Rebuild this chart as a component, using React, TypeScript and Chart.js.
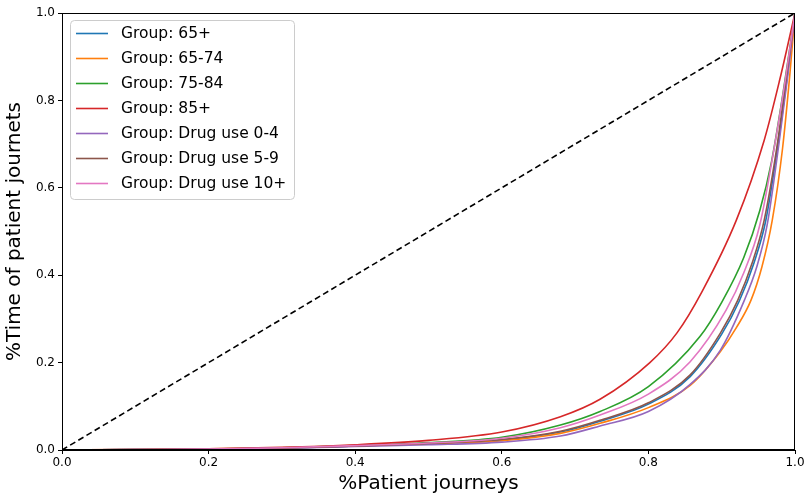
import React, { useEffect, useRef } from 'react';
import { Chart, registerables } from 'chart.js';

Chart.register(...registerables);

// ---- Data (Lorenz curves) ----
const seriesLabels = [
  'Group: 65+',
  'Group: 65-74',
  'Group: 75-84',
  'Group: 85+',
  'Group: Drug use 0-4',
  'Group: Drug use 5-9',
  'Group: Drug use 10+',
];
const seriesColors = ['#1f77b4', '#ff7f0e', '#2ca02c', '#d62728', '#9467bd', '#8c564b', '#e377c2'];

const p65 = [0, 0.1, 0.2, 0.3, 0.4, 0.5, 0.6, 0.68, 0.734, 0.8, 0.857, 0.9, 0.924, 0.944, 0.96, 0.976, 0.989, 1];
const l65 = [0, 0.001, 0.002, 0.004, 0.009, 0.015, 0.023, 0.041, 0.066, 0.105, 0.168, 0.265, 0.341, 0.428, 0.524, 0.69, 0.85, 1];

const p6574 = [0, 0.1, 0.2, 0.3, 0.4, 0.5, 0.6, 0.68, 0.734, 0.8, 0.857, 0.898, 0.92, 0.94, 0.955, 0.969, 0.983, 0.993, 1];
const l6574 = [0, 0.001, 0.003, 0.005, 0.010, 0.014, 0.021, 0.038, 0.061, 0.097, 0.148, 0.225, 0.28, 0.343, 0.42, 0.526, 0.69, 0.86, 1];

const p7584 = [0, 0.1, 0.2, 0.3, 0.4, 0.5, 0.6, 0.68, 0.734, 0.8, 0.87, 0.9, 0.93, 0.952, 0.968, 0.984, 1];
const l7584 = [0, 0.001, 0.002, 0.005, 0.010, 0.017, 0.029, 0.057, 0.088, 0.145, 0.259, 0.338, 0.44, 0.548, 0.66, 0.82, 1];

const p85 = [0, 0.1, 0.2, 0.3, 0.4, 0.5, 0.6, 0.68, 0.734, 0.802, 0.839, 0.873, 0.92, 0.958, 0.979, 1];
const l85 = [0, 0.001, 0.003, 0.006, 0.012, 0.022, 0.041, 0.076, 0.116, 0.2, 0.268, 0.362, 0.526, 0.709, 0.846, 1];

const pDrug04 = [0, 0.1, 0.2, 0.3, 0.4, 0.5, 0.6, 0.68, 0.734, 0.8, 0.857, 0.898, 0.931, 0.948, 0.962, 0.978, 0.99, 1];
const lDrug04 = [0, 0.001, 0.002, 0.004, 0.008, 0.012, 0.018, 0.032, 0.055, 0.088, 0.15, 0.228, 0.343, 0.42, 0.515, 0.7, 0.855, 1];

const pDrug59 = [0, 0.1, 0.2, 0.3, 0.4, 0.5, 0.6, 0.68, 0.734, 0.8, 0.857, 0.898, 0.922, 0.942, 0.958, 0.975, 0.988, 1];
const lDrug59 = [0, 0.001, 0.002, 0.004, 0.009, 0.015, 0.024, 0.043, 0.068, 0.108, 0.172, 0.267, 0.343, 0.43, 0.526, 0.69, 0.85, 1];

const pDrug10 = [0, 0.1, 0.2, 0.3, 0.4, 0.5, 0.6, 0.68, 0.734, 0.8, 0.857, 0.906, 0.93, 0.952, 0.972, 0.987, 1];
const lDrug10 = [0, 0.001, 0.002, 0.005, 0.010, 0.016, 0.027, 0.051, 0.08, 0.128, 0.202, 0.32, 0.405, 0.515, 0.695, 0.85, 1];

const diagX = [0, 1];
const diagY = [0, 1];

const seriesX = [p65, p6574, p7584, p85, pDrug04, pDrug59, pDrug10];
const seriesY = [l65, l6574, l7584, l85, lDrug04, lDrug59, lDrug10];

const xTitle = '%Patient journeys';
const yTitle = '%Time of patient journets';

const FONT = '"DejaVu Sans", "Liberation Sans", sans-serif';

const framePlugin = {
  id: 'frame',
  afterDraw(chart: any) {
    const { ctx, chartArea } = chart;
    ctx.save();
    ctx.strokeStyle = '#000';
    ctx.lineWidth = 1;
    ctx.strokeRect(chartArea.left + 0.5, chartArea.top + 0.5, chartArea.right - chartArea.left - 1, chartArea.bottom - chartArea.top - 1);
    ctx.restore();
  },
};

const legendPlugin = {
  id: 'mplLegend',
  afterDraw(chart: any) {
    const { ctx } = chart;
    const x0 = 70.5, y0 = 20.5, w = 224, h = 179;
    ctx.save();
    ctx.globalAlpha = 0.8;
    ctx.fillStyle = '#ffffff';
    ctx.beginPath();
    (ctx as any).roundRect(x0, y0, w, h, 4);
    ctx.fill();
    ctx.globalAlpha = 1;
    ctx.strokeStyle = '#cccccc';
    ctx.lineWidth = 1;
    ctx.stroke();
    ctx.font = `15.5px ${FONT}`;
    ctx.textBaseline = 'middle';
    ctx.textAlign = 'left';
    seriesLabels.forEach((lab, i) => {
      const cy = 33.5 + i * 25;
      ctx.strokeStyle = seriesColors[i];
      ctx.lineWidth = 1.6;
      ctx.beginPath();
      ctx.moveTo(76, cy);
      ctx.lineTo(108, cy);
      ctx.stroke();
      ctx.fillStyle = '#000';
      ctx.fillText(lab, 121, cy + 0.5);
    });
    ctx.restore();
  },
};

export default function App() {
  const ref = useRef<HTMLCanvasElement>(null);

  useEffect(() => {
    if (!ref.current) return;
    const datasets: any[] = seriesLabels.map((label, i) => ({
      label,
      data: seriesX[i].map((x, j) => ({ x, y: seriesY[i][j] })),
      borderColor: seriesColors[i],
      backgroundColor: seriesColors[i],
      borderWidth: 1.6,
      pointRadius: 0,
      cubicInterpolationMode: 'monotone',
      fill: false,
      order: 10 - i,
    }));
    datasets.push({
      label: 'diagonal',
      data: diagX.map((x, j) => ({ x, y: diagY[j] })),
      borderColor: '#000',
      borderWidth: 1.6,
      borderDash: [6, 3.5],
      pointRadius: 0,
      fill: false,
      order: 0,
    });

    const tickFont = { family: FONT, size: 12 };
    const titleFont = { family: FONT, size: 20 };

    const chart = new Chart(ref.current, {
      type: 'line',
      data: { datasets },
      options: {
        responsive: false,
        animation: false,
        events: [],
        layout: { padding: { left: 0, right: 10, top: 13, bottom: 0 } },
        plugins: { legend: { display: false }, tooltip: { enabled: false } },
        scales: {
          x: {
            type: 'linear',
            min: 0,
            max: 1,
            ticks: {
              stepSize: 0.2,
              maxRotation: 0,
              padding: 2,
              color: '#000',
              font: tickFont,
              callback: (v: any) => Number(v).toFixed(1),
            },
            grid: { drawOnChartArea: false, drawTicks: true, tickLength: 4, color: '#000' },
            border: { display: true, color: '#000', width: 1 },
            title: { display: true, text: xTitle, color: '#000', font: titleFont, padding: { top: 0, bottom: 2 } },
            afterFit: (s: any) => {
              s.height = 48;
              s.paddingLeft = 0;
              s.paddingRight = 0;
            },
          },
          y: {
            type: 'linear',
            min: 0,
            max: 1,
            ticks: {
              stepSize: 0.2,
              padding: 3,
              color: '#000',
              font: tickFont,
              callback: (v: any) => Number(v).toFixed(1),
            },
            grid: { drawOnChartArea: false, drawTicks: true, tickLength: 4, color: '#000' },
            border: { display: true, color: '#000', width: 1 },
            title: { display: true, text: yTitle, color: '#000', font: titleFont, padding: { top: 3, bottom: 0 } },
            afterFit: (s: any) => {
              s.width = 62;
              s.paddingTop = 0;
              s.paddingBottom = 0;
            },
          },
        },
      } as any,
      plugins: [framePlugin, legendPlugin],
    });
    return () => chart.destroy();
  }, []);

  return (
    <div style={{ position: 'fixed', left: 0, top: 0, width: 805, height: 498, background: '#fff' }}>
      <canvas ref={ref} width={805} height={498} style={{ display: 'block', width: 805, height: 498 }} />
    </div>
  );
}
